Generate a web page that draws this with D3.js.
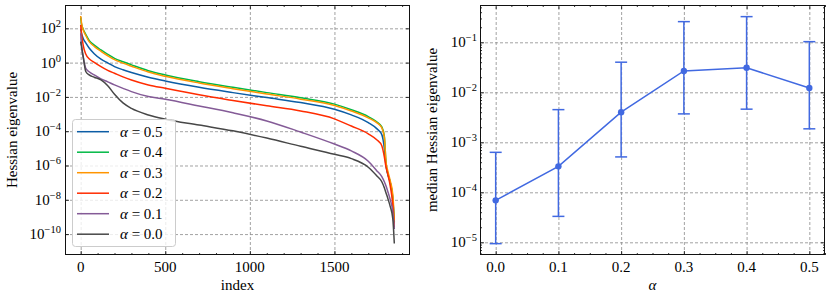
<!DOCTYPE html>
<html>
<head>
<meta charset="utf-8">
<title>Hessian eigenvalues</title>
<style>
	html, body {
		margin: 0;
		padding: 0;
		background: #fff;
	}

	svg {
		display: block;
		font-family: "Liberation Serif", "DejaVu Serif", serif;
	}

	.grid line {
		stroke: #8a8a8a;
		stroke-dasharray: 3,2;
		stroke-width: 0.8px;
	}

	.grid path, .ticks path {
		display: none;
	}

	.ticks line {
		stroke: #000;
		stroke-width: 0.8px;
	}

	text {
		fill: #000;
		font-size: 15px;
	}
</style>
</head>
<body>
<svg id="chart" width="830" height="298"></svg>
<script src="https://unpkg.com/d3@7.8.5/dist/d3.min.js"></script>
<script>
	// left panel: sorted Hessian spectrum, stored as log10 of the eigenvalue
	const eigIndex = [0, 5, 15, 30, 50, 80, 120, 160, 200, 250, 300, 400, 500, 700, 900, 1100, 1300, 1500, 1600, 1700, 1750, 1780, 1795, 1805, 1815, 1830, 1845, 1854];
	const log10Eig05 = [1.95, 1.7, 1.4, 1.15, 0.85, 0.52, 0.2, -0.02, -0.23, -0.42, -0.58, -0.85, -1.07, -1.44, -1.75, -2.04, -2.33, -2.72, -3.05, -3.5, -3.85, -4.2, -5.0, -6.0, -6.5, -7.0, -8.0, -9.4];
	const log10Eig04 = [2.62, 2.25, 1.95, 1.65, 1.3, 1.02, 0.74, 0.48, 0.25, 0.05, -0.13, -0.47, -0.72, -1.11, -1.44, -1.75, -2.05, -2.42, -2.75, -3.15, -3.45, -3.75, -4.3, -5.9, -6.45, -7.0, -7.9, -9.3];
	const log10Eig03 = [2.72, 2.3, 1.9, 1.58, 1.22, 0.95, 0.66, 0.4, 0.17, -0.03, -0.21, -0.55, -0.8, -1.19, -1.52, -1.83, -2.13, -2.5, -2.82, -3.22, -3.5, -3.8, -4.35, -5.8, -6.3, -6.9, -7.7, -9.2];
	const log10Eig02 = [2.2, 1.7, 1.0, 0.5, 0.22, 0.02, -0.23, -0.45, -0.62, -0.83, -1.01, -1.3, -1.5, -1.88, -2.21, -2.52, -2.82, -3.28, -3.7, -4.15, -4.5, -4.85, -5.5, -6.1, -6.5, -7.2, -8.3, -9.6];
	const log10Eig01 = [1.72, 1.0, 0.3, -0.33, -0.53, -0.72, -0.95, -1.12, -1.3, -1.5, -1.69, -1.98, -2.14, -2.53, -2.93, -3.4, -4.05, -4.75, -5.15, -5.75, -6.3, -6.65, -6.95, -7.2, -7.5, -8.0, -8.7, -9.7];
	const log10Eig00 = [1.22, 0.95, 0.35, -0.52, -0.72, -0.85, -1.01, -1.35, -1.85, -2.35, -2.67, -3.05, -3.3, -3.64, -3.98, -4.4, -4.88, -5.35, -5.6, -6.1, -6.6, -6.95, -7.3, -7.6, -7.9, -8.4, -9.1, -10.55];
	const seriesLabels = ['0.5', '0.4', '0.3', '0.2', '0.1', '0.0'];
	const seriesColors = ['#0C5DA5', '#00B945', '#FF9500', '#FF2C00', '#845B97', '#474747'];
	const seriesLog10 = [log10Eig05, log10Eig04, log10Eig03, log10Eig02, log10Eig01, log10Eig00];

	// right panel: median eigenvalue with spread
	const alphas = [0.0, 0.1, 0.2, 0.3, 0.4, 0.5];
	const medianEig = [6.9e-5, 3.3e-4, 4.0e-3, 2.67e-2, 3.1e-2, 1.22e-2];
	const upperEig = [6.3e-4, 4.5e-3, 4.0e-2, 0.259, 0.326, 0.103];
	const lowerEig = [9.4e-6, 3.3e-5, 5.1e-4, 3.7e-3, 4.6e-3, 1.86e-3];

	const leftXTicks = [0, 500, 1000, 1500];
	const leftYExps = [-10, -8, -6, -4, -2, 0, 2];
	const rightXTicks = [0.0, 0.1, 0.2, 0.3, 0.4, 0.5];
	const rightYExps = [-5, -4, -3, -2, -1];

	const svg = d3.select('#chart');

	function minus(n) {
		return String(n).replace('-', '\u2212');
	}

	function panel(box, x, y, xMajor, xMinor, yMajor, yMinor) {
		const g = svg.append('g');
		const h = box.y1 - box.y0;
		const w = box.x1 - box.x0;

		g.append('g').attr('class', 'grid')
			.attr('transform', `translate(0,${box.y1})`)
			.call(d3.axisBottom(x).tickValues(xMajor).tickSize(-h).tickFormat(''));
		g.append('g').attr('class', 'grid')
			.attr('transform', `translate(${box.x0},0)`)
			.call(d3.axisLeft(y).tickValues(yMajor).tickSize(-w).tickFormat(''));

		const sides = [
			[d3.axisBottom, x, box.y1, true],
			[d3.axisTop, x, box.y0, true],
			[d3.axisLeft, y, box.x0, false],
			[d3.axisRight, y, box.x1, false],
		];
		sides.forEach(([axis, sc, pos, horiz]) => {
			const tr = horiz ? `translate(0,${pos})` : `translate(${pos},0)`;
			const maj = horiz ? xMajor : yMajor;
			const min = horiz ? xMinor : yMinor;
			g.append('g').attr('class', 'ticks').attr('transform', tr)
				.call(axis(sc).tickValues(maj).tickSize(-4).tickFormat(''));
			if (min.length) {
				g.append('g').attr('class', 'ticks').attr('transform', tr)
					.call(axis(sc).tickValues(min).tickSize(-2).tickFormat(''));
			}
		});
		return g;
	}

	function frame(box) {
		svg.append('rect')
			.attr('x', box.x0 + 0.5).attr('y', box.y0 + 0.5)
			.attr('width', box.x1 - box.x0 - 1).attr('height', box.y1 - box.y0 - 1)
			.attr('fill', 'none').attr('stroke', '#111').attr('stroke-width', 1);
	}

	function powLabels(exps, y, xRight) {
		const t = svg.append('g').selectAll('text')
			.data(exps)
			.join('text')
			.attr('x', xRight)
			.attr('y', d => y(Math.pow(10, d)) + 5)
			.attr('text-anchor', 'end');
		t.append('tspan').text('10');
		t.append('tspan').attr('dy', -6).attr('font-size', '10.5px').text(d => minus(d));
	}

	// ---------- left panel ----------
	const boxL = { x0: 65, x1: 410, y0: 5, y1: 255 };
	const xL = d3.scaleLinear().domain([-92.7, 1946.7]).range([boxL.x0, boxL.x1]);
	const yL = d3.scaleLog().domain([Math.pow(10, -11.22), Math.pow(10, 3.36)]).range([boxL.y1, boxL.y0]);

	const leftXMinor = d3.range(0, 1901, 100).filter(v => v % 500 !== 0);
	const leftYMajor = leftYExps.map(e => Math.pow(10, e));
	panel(boxL, xL, yL, leftXTicks, leftXMinor, leftYMajor, []);

	const line = d3.line()
		.curve(d3.curveMonotoneX)
		.x((_, i) => xL(eigIndex[i]))
		.y(d => yL(Math.pow(10, d)));

	svg.append('g').selectAll('path')
		.data(seriesLog10)
		.join('path')
		.attr('d', line)
		.attr('fill', 'none')
		.attr('stroke', (_, i) => seriesColors[i])
		.attr('stroke-width', 1.5)
		.attr('stroke-linejoin', 'round');

	frame(boxL);

	svg.append('g').selectAll('text')
		.data(leftXTicks)
		.join('text')
		.attr('x', d => xL(d))
		.attr('y', 271.5)
		.attr('text-anchor', 'middle')
		.text(d => d);
	powLabels(leftYExps, yL, 61);

	svg.append('text')
		.attr('transform', 'translate(17,130) rotate(-90)')
		.attr('text-anchor', 'middle')
		.text('Hessian eigenvalue');
	svg.append('text')
		.attr('x', (boxL.x0 + boxL.x1) / 2)
		.attr('y', 290)
		.attr('text-anchor', 'middle')
		.text('index');

	// legend
	const legend = svg.append('g');
	legend.append('rect')
		.attr('x', 72.5).attr('y', 119.5)
		.attr('width', 103).attr('height', 127)
		.attr('rx', 3)
		.attr('fill', '#fff').attr('fill-opacity', 0.8)
		.attr('stroke', '#cccccc').attr('stroke-width', 1);
	const items = legend.selectAll('g')
		.data(seriesLabels)
		.join('g')
		.attr('transform', (_, i) => `translate(0,${131.7 + i * 20.5})`);
	items.append('line')
		.attr('x1', 77).attr('x2', 109)
		.attr('stroke', (_, i) => seriesColors[i])
		.attr('stroke-width', 1.5);
	const lt = items.append('text').attr('x', 120).attr('y', 5);
	lt.append('tspan').attr('font-style', 'italic').text('\u03b1');
	lt.append('tspan').text(d => ' = ' + d);

	// ---------- right panel ----------
	const boxR = { x0: 480, x1: 825, y0: 5, y1: 255 };
	const xR = d3.scaleLinear().domain([-0.025, 0.525]).range([boxR.x0, boxR.x1]);
	const yR = d3.scaleLog().domain([Math.pow(10, -5.254), Math.pow(10, -0.254)]).range([boxR.y1, boxR.y0]);

	const rightXMinor = d3.range(-1, 22).map(k => k * 0.025).filter((v, i) => (i - 1) % 4 !== 0);
	const rightYMajor = rightYExps.map(e => Math.pow(10, e));
	const rightYMinor = [];
	d3.range(-6, 1).forEach(k => {
		for (let m = 2; m <= 9; m++) {
			const v = m * Math.pow(10, k);
			const [lo, hi] = yR.domain();
			if (v >= lo && v <= hi) rightYMinor.push(v);
		}
	});
	panel(boxR, xR, yR, rightXTicks, rightXMinor, rightYMajor, rightYMinor);

	const blue = '#4169E1';
	const bars = svg.append('g').selectAll('g')
		.data(alphas)
		.join('g');
	bars.append('line')
		.attr('x1', d => xR(d)).attr('x2', d => xR(d))
		.attr('y1', (_, i) => yR(lowerEig[i])).attr('y2', (_, i) => yR(upperEig[i]))
		.attr('stroke', blue).attr('stroke-width', 1.5);
	[lowerEig, upperEig].forEach(arr => {
		bars.append('line')
			.attr('x1', d => xR(d) - 6).attr('x2', d => xR(d) + 6)
			.attr('y1', (_, i) => yR(arr[i])).attr('y2', (_, i) => yR(arr[i]))
			.attr('stroke', blue).attr('stroke-width', 1.5);
	});

	const medLine = d3.line()
		.x((_, i) => xR(alphas[i]))
		.y(d => yR(d));
	svg.append('path')
		.attr('d', medLine(medianEig))
		.attr('fill', 'none')
		.attr('stroke', blue)
		.attr('stroke-width', 1.5);
	svg.append('g').selectAll('circle')
		.data(medianEig)
		.join('circle')
		.attr('cx', (_, i) => xR(alphas[i]))
		.attr('cy', d => yR(d))
		.attr('r', 3.2)
		.attr('fill', blue);

	frame(boxR);

	svg.append('g').selectAll('text')
		.data(rightXTicks)
		.join('text')
		.attr('x', d => xR(d))
		.attr('y', 271.5)
		.attr('text-anchor', 'middle')
		.text(d => d.toFixed(1));
	powLabels(rightYExps, yR, 477);

	svg.append('text')
		.attr('transform', 'translate(437,130) rotate(-90)')
		.attr('text-anchor', 'middle')
		.text('median Hessian eigenvalue');
	svg.append('text')
		.attr('x', (boxR.x0 + boxR.x1) / 2)
		.attr('y', 290)
		.attr('text-anchor', 'middle')
		.attr('font-style', 'italic')
		.text('\u03b1');
</script>
</body>
</html>
